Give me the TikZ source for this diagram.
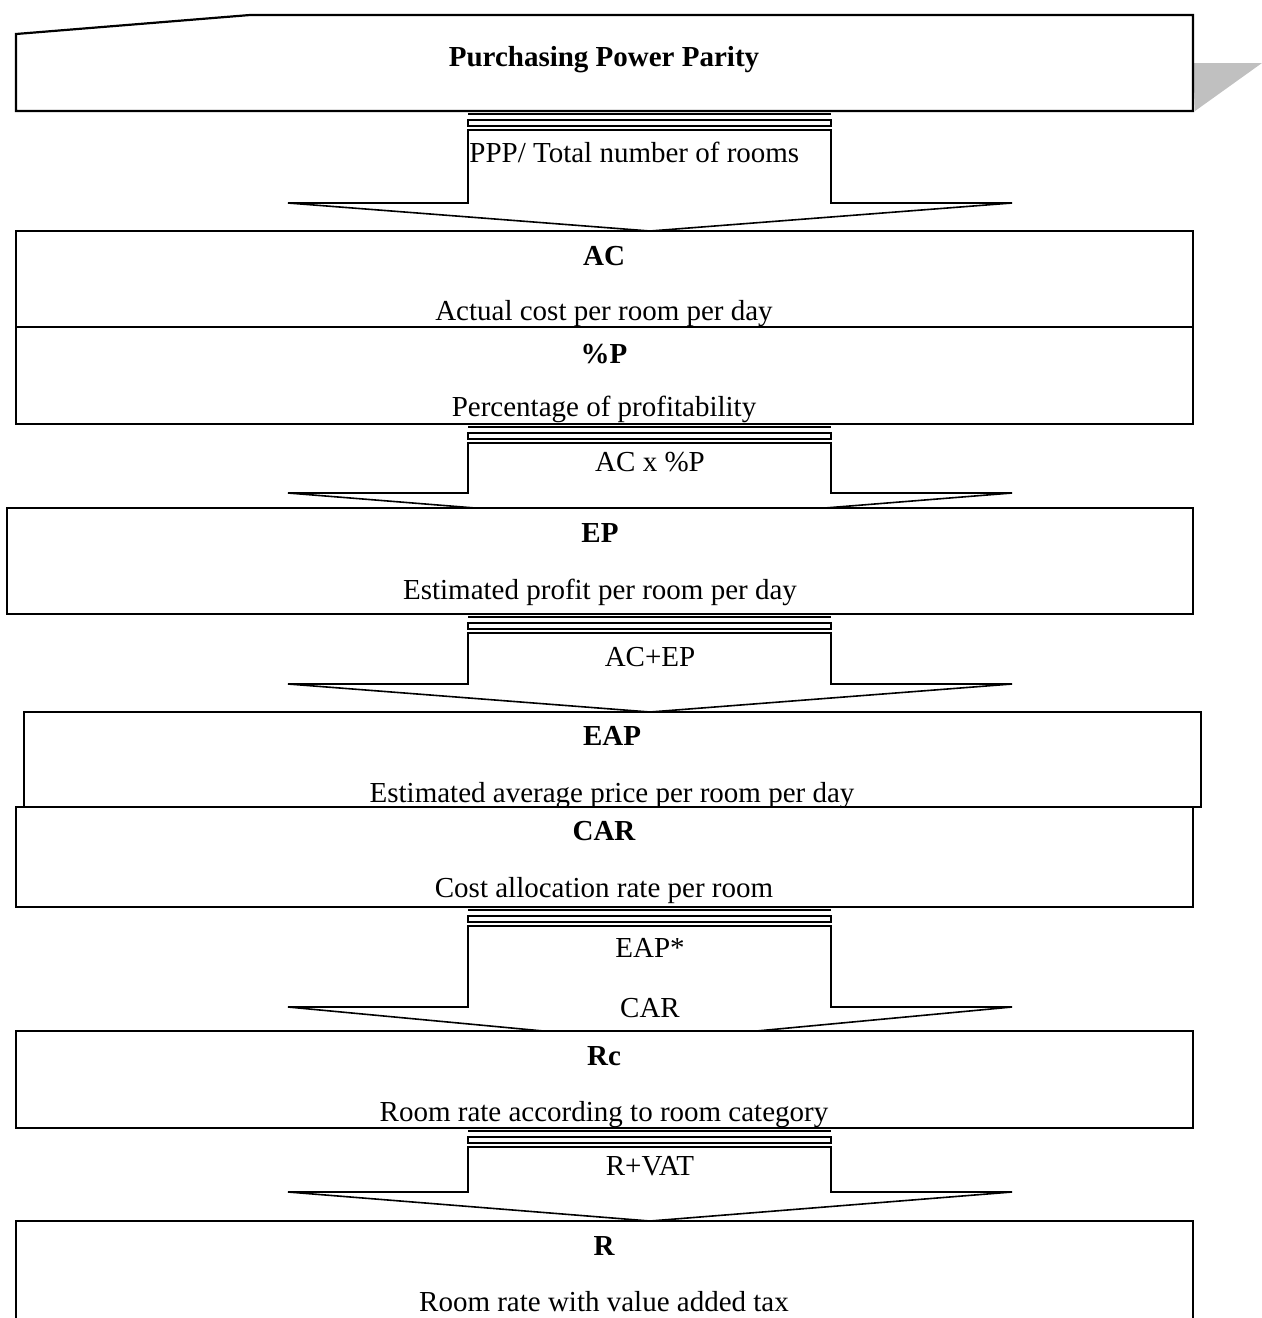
\documentclass[tikz,border=0pt]{standalone}
\usepackage{fontspec}
\setmainfont{Liberation Serif}
\definecolor{shadowgray}{HTML}{C0C0C0}
\newcommand\blkarrow[3]{%
  \draw[arrline] (468,#1+19) -- (468,#2) -- (288,#2) -- (650,#3) -- (1012,#2) -- (831,#2) -- (831,#1+19) -- cycle;
  \draw[arrline] (468,#1+9) rectangle (831,#1+15);
  \draw[arrline] (468,#1+3) -- (831,#1+3);
}
\begin{document}
\begin{tikzpicture}[x=0.5pt,y=-0.5pt,
  boxline/.style={draw=black, line width=1.1pt, fill=white},
  arrline/.style={draw=black, line width=0.8pt, fill=white},
  lbl/.style={anchor=base, inner sep=0pt, font=\fontsize{14.5}{17}\selectfont},
  ttl/.style={anchor=base, inner sep=0pt, font=\fontsize{14.5}{17}\selectfont\bfseries}]
\useasboundingbox (0,0) rectangle (1262,1318);
% top banner with shadow
\fill[shadowgray] (1193,63) -- (1262,63) -- (1195,111) -- cycle;
\draw[boxline] (16,111) -- (16,34) -- (250,15) -- (1193,15) -- (1193,111) -- cycle;
\node[ttl] (ppp) at (604,66) {Purchasing Power Parity};
% block arrows
\blkarrow{111}{203}{231}
\node[lbl, anchor=base west] (a1) at (469,162) {PPP/ Total number of rooms};
\blkarrow{424}{493}{522}
\node[lbl] (a2) at (650,471) {AC x \%P};
\blkarrow{614}{684}{712}
\node[lbl] (a3) at (650,666) {AC+EP};
\blkarrow{907}{1007}{1041}
\node[lbl] (a4a) at (650,957) {EAP*};
\node[lbl] (a4b) at (650,1017) {CAR};
\blkarrow{1128}{1192}{1221}
\node[lbl] (a5) at (650,1175) {R+VAT};
% boxes
\draw[boxline] (16,231) rectangle (1193,327);
\node[ttl] (ac) at (604,265) {AC};
\node[lbl] (acd) at (604,320) {Actual cost per room per day};
\draw[boxline] (16,327) rectangle (1193,424);
\node[ttl] (pp) at (604,363) {\%P};
\node[lbl] (ppd) at (604,416) {Percentage of profitability};
\draw[boxline] (7,508) rectangle (1193,614);
\node[ttl] (ep) at (600,542) {EP};
\node[lbl] (epd) at (600,599) {Estimated profit per room per day};
\draw[boxline] (24,712) rectangle (1201,807);
\node[ttl] (eap) at (612,745) {EAP};
\node[lbl] (eapd) at (612,802) {Estimated average price per room per day};
\draw[boxline] (16,807) rectangle (1193,907);
\node[ttl] (car) at (604,840) {CAR};
\node[lbl] (card) at (604,897) {Cost allocation rate per room};
\draw[boxline] (16,1031) rectangle (1193,1128);
\node[ttl] (rc) at (604,1065) {Rc};
\node[lbl] (rcd) at (604,1121) {Room rate according to room category};
\draw[boxline] (16,1340) -- (16,1221) -- (1193,1221) -- (1193,1340);
\node[ttl] (r) at (604,1255) {R};
\node[lbl] (rd) at (604,1311) {Room rate with value added tax};
\end{tikzpicture}
\end{document}
